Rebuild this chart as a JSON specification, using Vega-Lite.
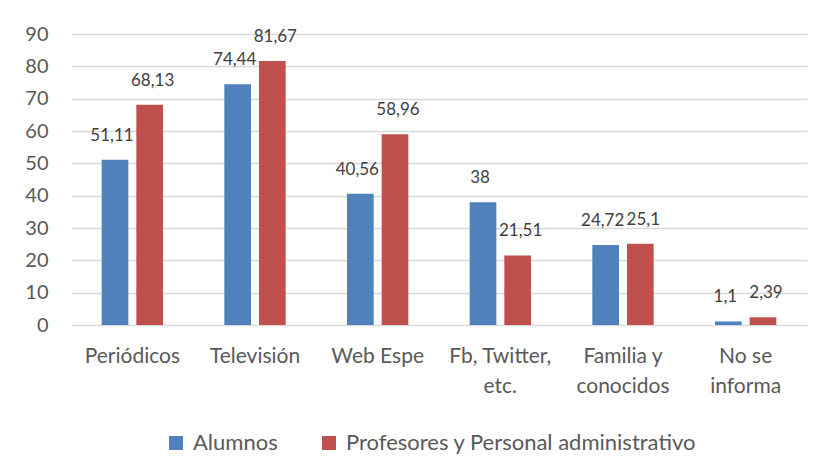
{
  "$schema": "https://vega.github.io/schema/vega-lite/v6.json",
  "width": 736,
  "height": 291,
  "autosize": {"type": "none"},
  "padding": {"left": 71, "top": 34, "right": 20, "bottom": 150},
  "background": "white",
  "data": {
    "values": [
      {"category": "Periódicos", "group": "Alumnos", "value": 51.11},
      {"category": "Periódicos", "group": "Profesores y Personal administrativo", "value": 68.13},
      {"category": "Televisión", "group": "Alumnos", "value": 74.44},
      {"category": "Televisión", "group": "Profesores y Personal administrativo", "value": 81.67},
      {"category": "Web Espe", "group": "Alumnos", "value": 40.56},
      {"category": "Web Espe", "group": "Profesores y Personal administrativo", "value": 58.96},
      {"category": "Fb, Twitter, etc.", "group": "Alumnos", "value": 38},
      {"category": "Fb, Twitter, etc.", "group": "Profesores y Personal administrativo", "value": 21.51},
      {"category": "Familia y conocidos", "group": "Alumnos", "value": 24.72},
      {"category": "Familia y conocidos", "group": "Profesores y Personal administrativo", "value": 25.1},
      {"category": "No se informa", "group": "Alumnos", "value": 1.1},
      {"category": "No se informa", "group": "Profesores y Personal administrativo", "value": 2.39}
    ]
  },
  "encoding": {
    "x": {
      "field": "category",
      "type": "nominal",
      "sort": null,
      "scale": {"paddingInner": 0.5, "paddingOuter": 0.25},
      "axis": {
        "title": null,
        "labelAngle": 0,
        "domain": false,
        "ticks": false,
        "labelPadding": 20,
        "labelFontSize": 21,
        "labelLineHeight": 30,
        "labelColor": "#595959",
        "labelFont": "Lato",
        "labelExpr": "datum.label == 'Fb, Twitter, etc.' ? ['Fb, Twitter,', 'etc.'] : datum.label == 'Familia y conocidos' ? ['Familia y', 'conocidos'] : datum.label == 'No se informa' ? ['No se', 'informa'] : datum.label"
      }
    },
    "xOffset": {
      "field": "group",
      "type": "nominal",
      "sort": ["Alumnos", "Profesores y Personal administrativo"],
      "scale": {"paddingInner": 0.23, "paddingOuter": 0}
    },
    "y": {
      "field": "value",
      "type": "quantitative",
      "scale": {"domain": [0, 90]},
      "axis": {
        "title": null,
        "values": [0, 10, 20, 30, 40, 50, 60, 70, 80, 90],
        "domain": false,
        "ticks": false,
        "labelPadding": 23,
        "labelFontSize": 20,
        "labelColor": "#595959",
        "labelFont": "Lato",
        "gridColor": "#d9d9d9",
        "gridWidth": 1.3
      }
    }
  },
  "layer": [
    {
      "mark": {"type": "bar"},
      "encoding": {
        "color": {
          "field": "group",
          "type": "nominal",
          "scale": {
            "domain": ["Alumnos", "Profesores y Personal administrativo"],
            "range": ["#4F81BD", "#C0504D"]
          },
          "legend": {
            "title": null,
            "orient": "none",
            "direction": "horizontal",
            "legendX": 94,
            "legendY": 398,
            "symbolType": "square",
            "symbolSize": 196,
            "symbolStrokeWidth": 0,
            "labelFontSize": 22,
            "labelFont": "Lato",
            "labelColor": "#595959",
            "labelOffset": 6,
            "columnPadding": 40,
            "labelLimit": 500,
            "padding": 0
          }
        }
      }
    },
    {
      "transform": [{"filter": "datum.group == 'Alumnos'"}],
      "mark": {"type": "text", "baseline": "middle", "dy": -24, "dx": -3, "fontSize": 17, "font": "Lato", "color": "#404040"},
      "encoding": {
        "text": {"field": "value", "type": "quantitative", "format": "~r"}
      }
    },
    {
      "transform": [{"filter": "datum.group != 'Alumnos'"}],
      "mark": {"type": "text", "baseline": "middle", "dy": -24, "dx": 3, "fontSize": 17, "font": "Lato", "color": "#404040"},
      "encoding": {
        "text": {"field": "value", "type": "quantitative", "format": "~r"}
      }
    }
  ],
  "config": {
    "view": {"stroke": null},
    "locale": {
      "number": {"decimal": ",", "thousands": ".", "grouping": [3], "currency": ["", " €"]}
    }
  }
}
